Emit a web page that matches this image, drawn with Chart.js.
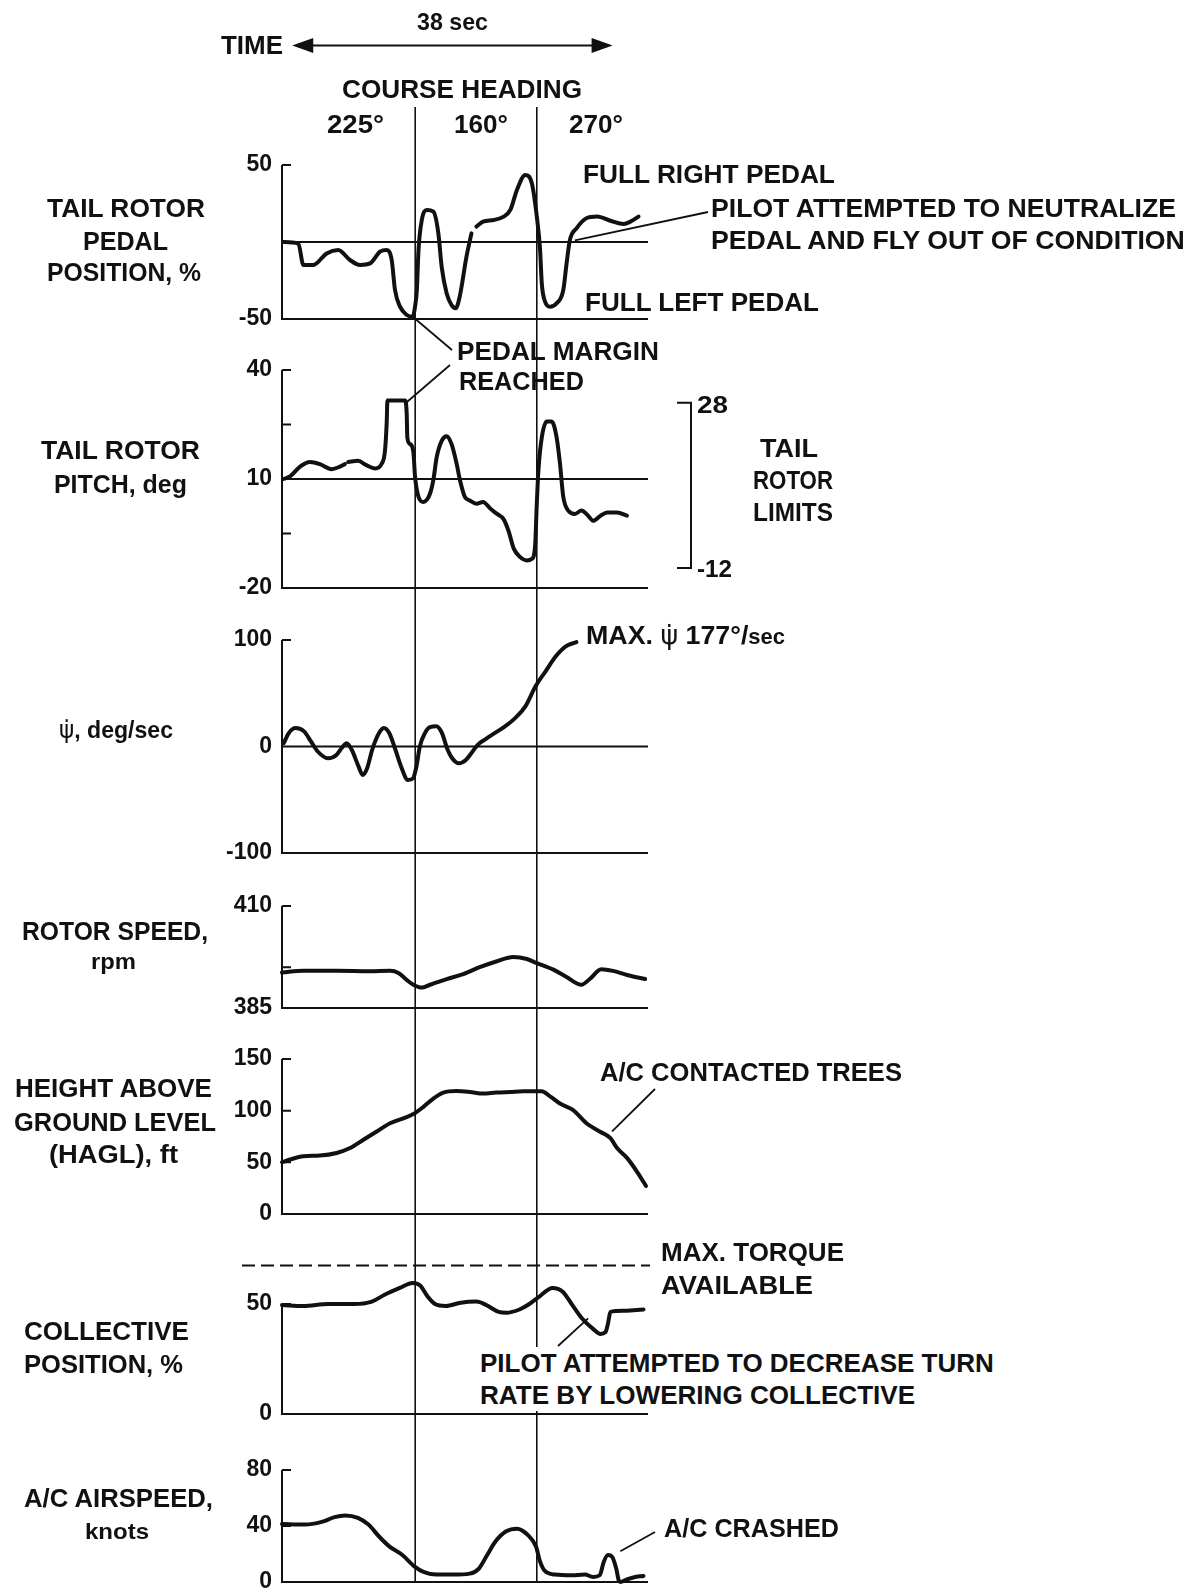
<!DOCTYPE html>
<html>
<head>
<meta charset="utf-8">
<script src="https://cdn.jsdelivr.net/npm/chart.js@4.4.0/dist/chart.umd.min.js"></script>
<style>
  body { margin: 0; background: #fff; }
  #page { position: relative; width: 1190px; height: 1594px; overflow: hidden; background: #fff; }
  #page canvas { position: absolute; left: 0; }
  #page svg { position: absolute; left: 0; top: 0; }
  .t { position: absolute; white-space: nowrap; font-family: 'Liberation Sans', Arial, sans-serif;
       font-weight: bold; color: #111; transform-origin: 0 50%; }
  .psi { font-family: 'DejaVu Sans', sans-serif; font-weight: normal; }
</style>
</head>
<body>
<div id="page"></div>
<script>
// time axis (seconds)
const timeMax = 44;
const arrowStart = 1.6, arrowSpan = 38;
const headingChanges = [16.1, 30.8];

// tail rotor pedal position, %
const pedalTime = [0.16, 1.98, 2.58, 3.79, 5.4, 6.8, 8.22, 9.43, 10.64, 11.85, 12.66, 13.26, 13.66, 14.27, 15.08, 15.8, 16.08, 16.3, 16.5, 16.9, 17.5, 18.3, 18.9, 19.3, 19.9, 20.5, 21.0, 21.5, 22.3, 22.9, 23.2, 23.5, 24.3, 25.6, 26.8, 27.6, 28.4, 29.4, 30.2, 30.8, 31.2, 31.4, 31.8, 32.4, 33.2, 34.0, 34.4, 34.8, 35.6, 36.8, 38.1, 39.7, 41.3, 42.1, 43.1];
const pedalPct  = [0, -1, -14.9, -14.9, -7.4, -5.2, -11.7, -14.9, -13.9, -6.3, -5.2, -11.7, -31.2, -42, -47.4, -48.5, -42, -31.2, -5.2, 14.3, 20.8, 19.7, 5.6, -16, -33.3, -41, -43, -35, -9.5, 5.6, null, 10, 13.2, 14.3, 16.5, 20.8, 33.8, 43.5, 38.1, 16.5, -5.2, -26.8, -38.7, -42, -39.8, -31.2, -13.9, 1.3, 8.9, 15.4, 16.5, 13.8, 11.7, 13.2, 16.5];

// tail rotor pitch, deg
const pitchTime = [0.16, 0.97, 2.18, 3.39, 4.59, 6.0, 7.0, 7.6, 7.8, 8.0, 9.2, 10.2, 11.25, 12.05, 12.45, 12.66, 12.74, 14.87, 15.08, 15.15, 15.48, 15.88, 16.08, 16.5, 17.1, 17.9, 18.3, 18.7, 19.3, 19.9, 20.5, 21.1, 21.5, 22.1, 22.7, 23.5, 24.3, 25.2, 26.0, 26.8, 27.4, 28.0, 28.8, 29.6, 30.2, 30.6, 30.8, 31.0, 31.4, 32.0, 32.6, 33.2, 33.6, 34.0, 34.6, 35.4, 36.2, 37.0, 37.6, 38.5, 39.3, 40.5, 41.7];
const pitchDeg  = [10, 10.7, 13.4, 14.7, 14.1, 12.7, 13.4, 14.1, null, 14.7, 15.0, 13.8, 12.9, 14.2, 17.8, 25.8, 31.6, 31.6, 27.6, 21.4, 19.6, 17.4, 10.7, 5.1, 3.7, 6.0, 9.8, 16.0, 20.5, 21.8, 19.6, 14.3, 9.8, 5.1, 4.1, 3.2, 3.7, 1.8, 0.4, -1.1, -4.4, -9.1, -11.5, -12.4, -12.0, -8.2, 3.2, 12.5, 21.4, 25.8, 25.8, 21.4, 14.3, 5.1, 1.3, 0.4, 1.3, -0.1, -1.5, -0.1, 0.8, 0.8, -0.1];

// yaw rate, deg/sec
const yawTime = [0.21, 0.82, 1.65, 2.67, 3.5, 4.32, 5.55, 6.58, 7.2, 7.82, 8.43, 9.26, 9.75, 10.29, 10.9, 11.73, 12.34, 12.96, 13.58, 14.4, 15.22, 15.84, 16.25, 16.66, 17.28, 17.9, 18.64, 19.34, 19.95, 20.57, 21.39, 22.22, 23.04, 23.66, 24.48, 25.71, 26.95, 28.18, 29.42, 30.65, 31.88, 33.12, 34.35, 35.59];
const yawRate = [3.1, 12.6, 17.3, 14.2, 4.7, -4.7, -11, -7.9, -1.6, 3.1, -3.1, -18.9, -26.7, -20.4, -3.1, 12.6, 17.3, 12.6, 0, -18.9, -31.4, -29.9, -18.9, 0, 12.6, 18.2, 18.9, 12.6, -1.6, -11, -15.7, -12.6, -4.7, 1.6, 6.3, 12.6, 18.9, 26.7, 37.7, 56.6, 70.8, 84.9, 94.3, 98];

// rotor speed, rpm
const rpmTime = [0, 2.58, 6.61, 10.64, 13.06, 14.07, 15.07, 15.88, 16.89, 17.9, 19.9, 21.9, 23.9, 25.9, 27.97, 29.6, 30.8, 32.8, 34.4, 36.2, 37.2, 38.6, 40.0, 41.7, 43.9];
const rotorRpm = [393.7, 394.1, 394.1, 394.0, 394.1, 393.6, 391.9, 390.7, 390.0, 390.7, 392.1, 393.3, 395.0, 396.4, 397.5, 397, 396, 394.4, 392.6, 390.7, 392.1, 394.5, 394.1, 393.1, 392.1];

// height above ground level, ft
const haglTime = [0, 0.97, 2.58, 4.59, 6.61, 8.22, 9.84, 11.45, 13.06, 14.67, 15.88, 17.1, 18.3, 19.5, 21.1, 22.7, 24.3, 25.9, 27.6, 29.2, 31.4, 32.4, 33.6, 35.2, 36.8, 38.4, 39.7, 40.5, 41.7, 43.0, 44.0];
const haglFt = [50.1, 52.7, 55.9, 56.5, 59.0, 63.8, 71.8, 79.8, 87.8, 92.6, 96.7, 103.7, 111.7, 117.5, 119, 118.1, 116.5, 117.5, 118.1, 118.7, 118.7, 113.9, 106.9, 100.5, 87.8, 79.8, 73.4, 63.8, 54.3, 39.9, 27.1];

// collective position, %
const collTime = [0, 2.56, 5.6, 8.7, 10.86, 12.4, 14.24, 15.78, 16.7, 17.6, 18.5, 19.8, 21.6, 23.5, 24.7, 26.2, 27.1, 28.7, 29.9, 31.1, 32.7, 33.9, 35.1, 36.3, 37.6, 38.5, 39.1, 39.4, 39.7, 41.3, 42.5, 43.7];
const collPct = [49.5, 49.1, 50, 50, 51.1, 54.2, 57.3, 59.6, 58.4, 53.4, 50, 49.1, 50.6, 51.1, 49.5, 46.4, 46, 47.5, 50, 53.4, 57.3, 55.7, 49.5, 43.3, 38.7, 36.4, 37.2, 41, 46.4, 46.9, 47.2, 47.5];
const maxTorque = 67.5;

// airspeed, knots
const airTime = [0, 2.77, 4.8, 6.35, 7.63, 9.17, 10.45, 11.73, 13.0, 14.55, 16.08, 17.1, 18.65, 20.7, 22.7, 23.8, 24.8, 25.8, 27.1, 28.4, 29.7, 30.7, 31.2, 31.7, 33.0, 35.0, 36.6, 37.6, 38.4, 38.9, 39.4, 39.9, 40.4, 40.7, 40.9, 41.7, 42.7, 43.7];
const airKnots = [41.4, 41, 42.9, 46.3, 47.5, 45.8, 41, 32.5, 25.3, 19.3, 10.8, 7.2, 5.3, 5.3, 6.0, 9.6, 19.3, 28.9, 36.2, 38.1, 33.7, 25.3, 14.5, 8.4, 5.3, 4.8, 5.3, 3.6, 4.8, 14.5, 19.3, 18.1, 9.6, 1.2, 0, 1.9, 3.6, 4.3];

// tick labels
const pedalTicks = [-50, 50];
const pitchTicks = [-20, 10, 40];
const pitchMinor = [25, -5];
const yawTicks = [-100, 0, 100];
const rpmTicks = [385, 410];
const rpmMinor = [395];
const haglTicks = [0, 50, 100, 150];
const collTicks = [0, 50];
const airTicks = [0, 40, 80];

const page = document.getElementById('page');

const frame = {
  id: 'frame',
  afterDatasetsDraw(chart, args, o) {
    const { ctx, chartArea: a, scales: { x, y } } = chart;
    ctx.save();
    ctx.strokeStyle = '#111';
    ctx.lineWidth = 2;
    ctx.beginPath();
    const yTop = y.getPixelForValue(o.axisTop), yBot = y.getPixelForValue(y.min);
    ctx.moveTo(a.left, yTop);
    ctx.lineTo(a.left, yBot);
    ctx.lineTo(a.right + 2, yBot);
    o.marks.forEach(v => {
      const py = y.getPixelForValue(v);
      ctx.moveTo(a.left, py);
      ctx.lineTo(a.left + 9, py);
    });
    if (o.ref != null) {
      const py = y.getPixelForValue(o.ref);
      ctx.moveTo(a.left, py);
      ctx.lineTo(a.right + 2, py);
    }
    ctx.stroke();
    if (o.dashed != null) {
      const py = y.getPixelForValue(o.dashed);
      ctx.setLineDash([13, 6]);
      ctx.beginPath();
      ctx.moveTo(a.left - 40, py);
      ctx.lineTo(a.right + 4, py);
      ctx.stroke();
    }
    ctx.restore();
  }
};

const charts = [];
const tops = [];
function panel(top, bottom, min, max, times, vals, ticks, o) {
  const c = document.createElement('canvas');
  const h = bottom - top + 60;
  c.width = 1190; c.height = h;
  c.style.top = (top - 30) + 'px';
  page.appendChild(c);
  tops.push(top - 30);
  const chart = new Chart(c, {
    type: 'line',
    data: {
      datasets: [{
        data: times.map((t, i) => ({ x: t, y: vals[i] })),
        borderColor: '#111', borderWidth: 4, pointRadius: 0,
        cubicInterpolationMode: 'monotone', spanGaps: false, clip: false,
        borderCapStyle: 'round', borderJoinStyle: 'round'
      }]
    },
    options: {
      responsive: false, animation: false, devicePixelRatio: 1, events: [],
      layout: { padding: { left: 212, right: 544, top: 30, bottom: 30 } },
      plugins: { legend: { display: false }, tooltip: { enabled: false },
                 frame: { axisTop: o.axisTop ?? max, marks: o.marks || [], ref: o.ref, dashed: o.dashed } },
      scales: {
        x: { type: 'linear', min: 0, max: timeMax, display: false },
        y: {
          min, max,
          afterBuildTicks: s => { s.ticks = ticks.map(v => ({ value: v })); },
          afterFit: s => { s.width = 70; },
          grid: { display: false, drawTicks: false },
          border: { display: false },
          ticks: { autoSkip: false, padding: 10, color: '#111',
                   font: { family: "'Liberation Sans', Arial, sans-serif", weight: 'bold', size: 23 } }
        }
      }
    },
    plugins: [frame]
  });
  charts.push(chart);
}

panel(165, 319, -50, 50, pedalTime, pedalPct, pedalTicks, { marks: [50], ref: 0 });
panel(370, 588, -20, 40, pitchTime, pitchDeg, pitchTicks, { marks: [40].concat(pitchMinor), ref: 10 });
panel(640, 853, -100, 100, yawTime, yawRate, yawTicks, { marks: [100], ref: 0 });
panel(906, 1008, 385, 410, rpmTime, rotorRpm, rpmTicks, { marks: [410].concat(rpmMinor) });
panel(1059, 1214, 0, 150, haglTime, haglFt, haglTicks, { marks: [150, 100, 50] });
panel(1249, 1414, 0, 75, collTime, collPct, collTicks, { axisTop: 50, marks: [50], dashed: maxTorque });
panel(1470, 1582, 0, 80, airTime, airKnots, airTicks, { marks: [80, 40] });

// page position of a data point in panel i
function P(i, t, v) {
  const ch = charts[i];
  return [ch.scales.x.getPixelForValue(t), tops[i] + ch.scales.y.getPixelForValue(v)];
}

const NS = 'http://www.w3.org/2000/svg';
const svg = document.createElementNS(NS, 'svg');
svg.setAttribute('width', 1190); svg.setAttribute('height', 1594);
page.appendChild(svg);
function line(x1, y1, x2, y2, w) {
  const l = document.createElementNS(NS, 'line');
  l.setAttribute('x1', x1); l.setAttribute('y1', y1);
  l.setAttribute('x2', x2); l.setAttribute('y2', y2);
  l.setAttribute('stroke', '#111'); l.setAttribute('stroke-width', w || 2);
  svg.appendChild(l);
}
function poly(pts, fill) {
  const p = document.createElementNS(NS, fill ? 'polygon' : 'polyline');
  p.setAttribute('points', pts.map(q => q.join(',')).join(' '));
  p.setAttribute('fill', fill ? '#111' : 'none');
  p.setAttribute('stroke', '#111'); p.setAttribute('stroke-width', 2);
  svg.appendChild(p);
}

// heading change lines through all panels
const bottomY = P(6, 0, 0)[1];
headingChanges.forEach(t => {
  const x = P(0, t, 0)[0];
  line(x, 107, x, bottomY, 1.6);
});

// 38 sec arrow
const ax1 = P(0, arrowStart, 0)[0], ax2 = P(0, arrowStart + arrowSpan, 0)[0], ay = 45.5;
line(ax1 + 8, ay, ax2 - 8, ay, 2);
poly([[ax1, ay], [ax1 + 17, ay - 6], [ax1 + 17, ay + 6]], true);
poly([[ax2, ay], [ax2 - 17, ay - 6], [ax2 - 17, ay + 6]], true);

// leaders
let s = P(0, 15.8, -48.5); line(s[0], s[1], 452, 350, 1.8);
s = P(1, 15.0, 31); line(s[0], s[1], 450, 365, 1.8);
s = P(0, 35.4, 1); line(s[0], s[1], 708, 212, 1.8);
s = P(4, 39.9, 80); line(s[0], s[1], 655, 1089, 1.8);
s = P(5, 37.0, 43.5); line(s[0], s[1], 558, 1346, 1.8);
s = P(6, 40.9, 22); line(s[0], s[1], 655, 1532, 1.8);

// tail rotor limits bracket
const bt = P(1, 0, 31)[1], bb = P(1, 0, -14.5)[1];
poly([[677, bt], [691, bt], [691, bb], [677, bb]]);

// text
function label(txt, x1, x2, y, size, html, bg) {
  const d = document.createElement('div');
  d.className = 't';
  const lh = bg ? 32 : size;
  d.style.fontSize = size + 'px';
  d.style.lineHeight = lh + 'px';
  d.style.left = x1 + 'px';
  d.style.top = (y - lh / 2) + 'px';
  if (bg) d.style.background = '#fff';
  if (html) d.innerHTML = txt; else d.textContent = txt;
  page.appendChild(d);
  const w = d.getBoundingClientRect().width;
  d.style.transform = 'scaleX(' + ((x2 - x1) / w).toFixed(3) + ')';
}

label('TIME', 221, 283, 45, 26);
label('38 sec', 417, 488, 22, 24);
label('COURSE HEADING', 342, 582, 88.5, 26);
label('225°', 327, 384, 124, 26);
label('160°', 454, 508, 124, 26);
label('270°', 569, 623, 124, 26);

label('FULL RIGHT PEDAL', 583, 835, 174, 26);
label('PILOT ATTEMPTED TO NEUTRALIZE', 711, 1176, 208, 26);
label('PEDAL AND FLY OUT OF CONDITION', 711, 1185, 240, 26);
label('FULL LEFT PEDAL', 585, 819, 302, 26);
label('PEDAL MARGIN', 457, 659, 350.5, 26);
label('REACHED', 459, 584, 381, 26);

label('28', 697, 728, 405, 24);
label('-12', 697, 732, 569, 24);
label('TAIL', 760, 818, 448, 25);
label('ROTOR', 753, 833, 480, 25);
label('LIMITS', 753, 833, 512, 25);

label('MAX. <span class="psi">ψ̇</span> 177°/<span style="font-size:0.82em">sec</span>', 586, 785, 635, 26, true);
label('A/C CONTACTED TREES', 600, 902, 1072, 26);
label('MAX. TORQUE', 661, 844, 1252, 26);
label('AVAILABLE', 661, 813, 1284.5, 26);
label('PILOT ATTEMPTED TO DECREASE TURN', 480, 994, 1363, 26, false, true);
label('RATE BY LOWERING COLLECTIVE', 480, 915, 1395, 26, false, true);
label('A/C CRASHED', 664, 839, 1528, 26);

label('TAIL ROTOR', 47, 205, 208, 25);
label('PEDAL', 83, 168, 241, 25);
label('POSITION, %', 47, 201, 272, 25);
label('TAIL ROTOR', 41, 200, 450, 25);
label('PITCH, deg', 54, 187, 484, 25);
label('<span class="psi">ψ̇</span>, deg/sec', 59, 173, 730, 24, true);
label('ROTOR SPEED,', 22, 208, 931, 25);
label('rpm', 91, 136, 962, 22);
label('HEIGHT ABOVE', 15, 212, 1088, 25);
label('GROUND LEVEL', 14, 216, 1122, 25);
label('(HAGL), ft', 49, 178, 1154.5, 25);
label('COLLECTIVE', 24, 189, 1331, 25);
label('POSITION, %', 24, 183, 1364, 25);
label('A/C AIRSPEED,', 24, 213, 1498, 25);
label('knots', 85, 149, 1532, 22);
</script>
</body>
</html>
